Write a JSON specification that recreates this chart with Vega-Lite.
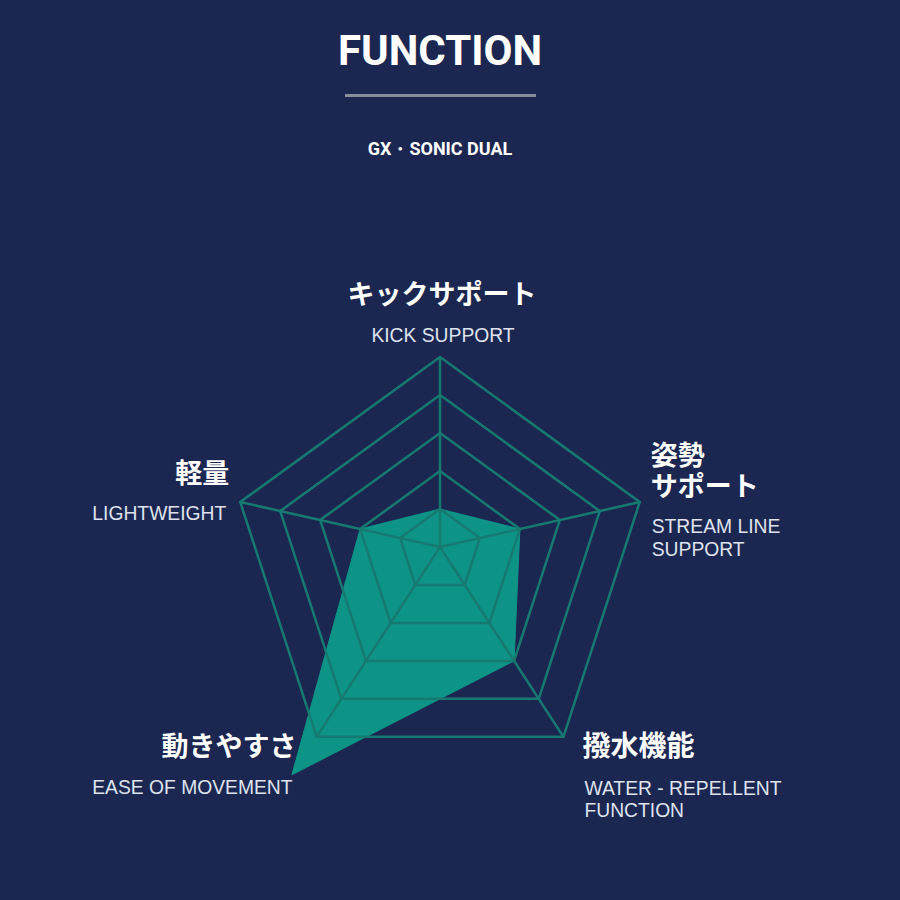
{
  "$schema": "https://vega.github.io/schema/vega-lite/v6.json",
  "description": "Radar chart of the five functions of the GX SONIC DUAL",
  "width": 900,
  "height": 900,
  "autosize": {"type": "none"},
  "padding": 0,
  "background": "#1b2751",
  "title": {
    "text": "FUNCTION",
    "subtitle": "GX・SONIC DUAL",
    "frame": "group",
    "anchor": "middle",
    "offset": -160,
    "dx": -10,
    "font": "Roboto",
    "fontSize": 42,
    "fontWeight": "bold",
    "color": "#ffffff",
    "subtitleFont": "Roboto",
    "subtitleFontSize": 18,
    "subtitleFontWeight": "bold",
    "subtitleColor": "#ffffff",
    "subtitlePadding": 67
  },
  "datasets": {
    "axes": [
      {"k": 0, "jp": "キックサポート", "en": "KICK SUPPORT", "v": 1},
      {"k": 1, "jp": "姿勢\nサポート", "en": "STREAM LINE\nSUPPORT", "v": 2},
      {"k": 2, "jp": "撥水機能", "en": "WATER - REPELLENT\nFUNCTION", "v": 3},
      {"k": 3, "jp": "動きやすさ", "en": "EASE OF MOVEMENT", "v": 6},
      {"k": 4, "jp": "軽量", "en": "LIGHTWEIGHT", "v": 2}
    ],
    "rings": [
      {"level": 1, "k": [0, 1, 2, 3, 4]},
      {"level": 2, "k": [0, 1, 2, 3, 4]},
      {"level": 3, "k": [0, 1, 2, 3, 4]},
      {"level": 4, "k": [0, 1, 2, 3, 4]},
      {"level": 5, "k": [0, 1, 2, 3, 4]}
    ]
  },
  "data": {"name": "axes"},
  "transform": [
    {"calculate": "datum.k * 2 * PI / 5", "as": "a"},
    {"calculate": "sin(datum.a)", "as": "ux"},
    {"calculate": "cos(datum.a) - 0.095", "as": "uy"},
    {"calculate": "datum.v * datum.ux", "as": "px"},
    {"calculate": "datum.v * datum.uy", "as": "py"},
    {"calculate": "5 * datum.ux", "as": "ex"},
    {"calculate": "5 * datum.uy", "as": "ey"}
  ],
  "layer": [
    {
      "mark": {
        "type": "line",
        "interpolate": "linear-closed",
        "fill": "#0d9486",
        "stroke": "#0d9486",
        "strokeWidth": 1
      },
      "encoding": {
        "x": {
          "field": "px",
          "type": "quantitative",
          "scale": {"domain": [-10.476, 10.952], "nice": false, "zero": false},
          "axis": null
        },
        "y": {
          "field": "py",
          "type": "quantitative",
          "scale": {"domain": [-8.405, 13.024], "nice": false, "zero": false},
          "axis": null
        },
        "order": {"field": "k"}
      }
    },
    {
      "data": {"name": "rings"},
      "transform": [
        {"flatten": ["k"]},
        {"calculate": "datum.k * 2 * PI / 5", "as": "a"},
        {"calculate": "datum.level * sin(datum.a)", "as": "px"},
        {"calculate": "datum.level * (cos(datum.a) - 0.095)", "as": "py"}
      ],
      "mark": {
        "type": "line",
        "interpolate": "linear-closed",
        "stroke": "#177a71",
        "strokeWidth": 2.5
      },
      "encoding": {
        "x": {"field": "px", "type": "quantitative"},
        "y": {"field": "py", "type": "quantitative"},
        "detail": {"field": "level"},
        "order": {"field": "k"}
      }
    },
    {
      "mark": {"type": "rule", "stroke": "#177a71", "strokeWidth": 2.5},
      "encoding": {
        "x": {"field": "ex", "type": "quantitative"},
        "y": {"field": "ey", "type": "quantitative"},
        "x2": {"datum": 0},
        "y2": {"datum": 0}
      }
    },
    {
      "data": {"values": [{}]},
      "mark": {"type": "rule", "stroke": "#8a8e9a", "strokeWidth": 3},
      "encoding": {
        "x": {"datum": -2.262, "type": "quantitative"},
        "x2": {"datum": 2.286},
        "y": {"datum": 10.75, "type": "quantitative"}
      }
    },
    {
      "transform": [{"filter": "datum.k == 0"}],
      "mark": {"type": "text", "align": "center", "baseline": "alphabetic", "dx": 2, "dy": -53, "font": "Noto Sans CJK JP", "fontWeight": "bold", "fontSize": 27, "color": "#ffffff"},
      "encoding": {"x": {"field": "ex", "type": "quantitative"}, "y": {"field": "ey", "type": "quantitative"}, "text": {"field": "jp"}}
    },
    {
      "transform": [{"filter": "datum.k == 0"}],
      "mark": {"type": "text", "align": "center", "baseline": "alphabetic", "dx": 3, "dy": -15, "font": "Liberation Sans", "fontSize": 19.3, "color": "#dfe3ee"},
      "encoding": {"x": {"field": "ex", "type": "quantitative"}, "y": {"field": "ey", "type": "quantitative"}, "text": {"field": "en"}}
    },
    {
      "transform": [{"filter": "datum.k == 1"}],
      "mark": {"type": "text", "align": "left", "baseline": "alphabetic", "dx": 11, "dy": -37, "lineBreak": "\n", "lineHeight": 31, "font": "Noto Sans CJK JP", "fontWeight": "bold", "fontSize": 27, "color": "#ffffff"},
      "encoding": {"x": {"field": "ex", "type": "quantitative"}, "y": {"field": "ey", "type": "quantitative"}, "text": {"field": "jp"}}
    },
    {
      "transform": [{"filter": "datum.k == 1"}],
      "mark": {"type": "text", "align": "left", "baseline": "alphabetic", "dx": 12, "dy": 31, "lineBreak": "\n", "lineHeight": 23, "font": "Liberation Sans", "fontSize": 19.3, "color": "#dfe3ee"},
      "encoding": {"x": {"field": "ex", "type": "quantitative"}, "y": {"field": "ey", "type": "quantitative"}, "text": {"field": "en"}}
    },
    {
      "transform": [{"filter": "datum.k == 2"}],
      "mark": {"type": "text", "align": "left", "baseline": "alphabetic", "dx": 19, "dy": 19, "font": "Noto Sans CJK JP", "fontWeight": "bold", "fontSize": 28, "color": "#ffffff"},
      "encoding": {"x": {"field": "ex", "type": "quantitative"}, "y": {"field": "ey", "type": "quantitative"}, "text": {"field": "jp"}}
    },
    {
      "transform": [{"filter": "datum.k == 2"}],
      "mark": {"type": "text", "align": "left", "baseline": "alphabetic", "dx": 21, "dy": 58, "lineBreak": "\n", "lineHeight": 22, "font": "Liberation Sans", "fontSize": 19.3, "color": "#dfe3ee"},
      "encoding": {"x": {"field": "ex", "type": "quantitative"}, "y": {"field": "ey", "type": "quantitative"}, "text": {"field": "en"}}
    },
    {
      "transform": [{"filter": "datum.k == 3"}],
      "mark": {"type": "text", "align": "right", "baseline": "alphabetic", "dx": -20, "dy": 19, "font": "Noto Sans CJK JP", "fontWeight": "bold", "fontSize": 27, "color": "#ffffff"},
      "encoding": {"x": {"field": "ex", "type": "quantitative"}, "y": {"field": "ey", "type": "quantitative"}, "text": {"field": "jp"}}
    },
    {
      "transform": [{"filter": "datum.k == 3"}],
      "mark": {"type": "text", "align": "right", "baseline": "alphabetic", "dx": -24, "dy": 57, "font": "Liberation Sans", "fontSize": 19.3, "color": "#dfe3ee"},
      "encoding": {"x": {"field": "ex", "type": "quantitative"}, "y": {"field": "ey", "type": "quantitative"}, "text": {"field": "en"}}
    },
    {
      "transform": [{"filter": "datum.k == 4"}],
      "mark": {"type": "text", "align": "right", "baseline": "alphabetic", "dx": -11, "dy": -19, "font": "Noto Sans CJK JP", "fontWeight": "bold", "fontSize": 27, "color": "#ffffff"},
      "encoding": {"x": {"field": "ex", "type": "quantitative"}, "y": {"field": "ey", "type": "quantitative"}, "text": {"field": "jp"}}
    },
    {
      "transform": [{"filter": "datum.k == 4"}],
      "mark": {"type": "text", "align": "right", "baseline": "alphabetic", "dx": -14, "dy": 18, "font": "Liberation Sans", "fontSize": 19.3, "color": "#dfe3ee"},
      "encoding": {"x": {"field": "ex", "type": "quantitative"}, "y": {"field": "ey", "type": "quantitative"}, "text": {"field": "en"}}
    }
  ],
  "config": {
    "view": {"stroke": null}
  }
}
